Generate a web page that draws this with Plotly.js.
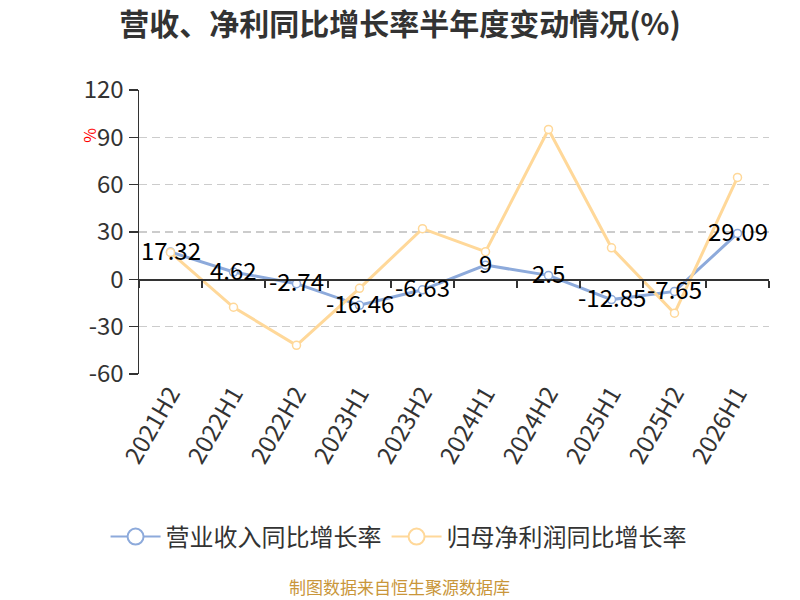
<!DOCTYPE html>
<html>
<head>
<meta charset="utf-8">
<script src="https://cdn.plot.ly/plotly-3.0.1.min.js"></script>
<style>html,body{margin:0;padding:0;background:#fff;}#chart{width:800px;height:600px;}</style>
</head>
<body>
<div id="chart"></div>
<script>
const categories = ['2021H2','2022H1','2022H2','2023H1','2023H2','2024H1','2024H2','2025H1','2025H2','2026H1'];
const revenueGrowth = [17.32, 4.62, -2.74, -16.46, -6.63, 9, 2.5, -12.85, -7.65, 29.09];
const profitGrowth = [17.0, -17.7, -41.8, -5.7, 32.1, 17.5, 95.0, 20.0, -21.5, 64.6];
const seriesNames = ['营业收入同比增长率', '归母净利润同比增长率'];
const yTicks = [-60, -30, 0, 30, 60, 90, 120];

const FONT = '"Noto Sans CJK SC", "Microsoft YaHei", sans-serif';
const BLUE = '#8DAADB';
const ORANGE = '#FFD899';

const traces = [
  {
    x: categories, y: revenueGrowth, name: seriesNames[0], type: 'scatter', mode: 'lines+markers',
    xaxis: 'x', yaxis: 'y', showlegend: false,
    line: {color: BLUE, width: 3},
    marker: {symbol: 'circle', size: 8, color: '#ffffff', line: {color: BLUE, width: 1.5}},
    hoverinfo: 'skip'
  },
  {
    x: categories, y: profitGrowth, name: seriesNames[1], type: 'scatter', mode: 'lines+markers',
    xaxis: 'x2', yaxis: 'y', showlegend: false,
    line: {color: ORANGE, width: 3},
    marker: {symbol: 'circle', size: 8, color: '#ffffff', line: {color: ORANGE, width: 1.5}},
    hoverinfo: 'skip'
  },
  {
    x: [null], y: [null], name: seriesNames[0], type: 'scatter', mode: 'lines+markers',
    xaxis: 'x', yaxis: 'y', showlegend: true,
    line: {color: BLUE, width: 2},
    marker: {symbol: 'circle', size: 17, color: '#ffffff', line: {color: BLUE, width: 2}},
    hoverinfo: 'skip'
  },
  {
    x: [null], y: [null], name: seriesNames[1], type: 'scatter', mode: 'lines+markers',
    xaxis: 'x', yaxis: 'y', showlegend: true,
    line: {color: ORANGE, width: 2},
    marker: {symbol: 'circle', size: 17, color: '#ffffff', line: {color: ORANGE, width: 2}},
    hoverinfo: 'skip'
  }
];

const annotations = categories.map((c, i) => ({
  x: c, y: revenueGrowth[i], xref: 'x', yref: 'y',
  text: String(revenueGrowth[i]), showarrow: false, yshift: 3,
  font: {family: FONT, size: 24, color: '#000000'}
}));
annotations.push({
  xref: 'paper', yref: 'paper', x: -0.102, y: 0.875, text: '%', textangle: -90,
  showarrow: false, font: {family: FONT, size: 16, color: '#ff0000'}
});
annotations.push({
  xref: 'paper', yref: 'paper', x: 0.414, y: -0.748, xanchor: 'center', yanchor: 'middle',
  text: '制图数据来自恒生聚源数据库', showarrow: false,
  font: {family: FONT, size: 17, color: '#C9963A'}
});

const layout = {
  width: 800, height: 600,
  margin: {l: 139, r: 31, t: 90, b: 226},
  paper_bgcolor: '#ffffff', plot_bgcolor: '#ffffff',
  font: {family: FONT, color: '#333333'},
  title: {
    text: '<b>营收、净利同比增长率半年度变动情况(%)</b>',
    x: 0.5, xanchor: 'center', y: 0.96, yanchor: 'middle',
    font: {family: FONT, size: 30, color: '#333333'}
  },
  showlegend: true,
  legend: {
    orientation: 'h', x: 0.412, xanchor: 'center', y: -0.574, yanchor: 'middle',
    font: {family: FONT, size: 24, color: '#333333'},
    itemwidth: 50, tracegroupgap: 0
  },
  xaxis: {
    type: 'category', categoryarray: categories, categoryorder: 'array',
    range: [-0.5, categories.length - 0.5],
    showline: false, ticks: '', showgrid: false, zeroline: false,
    tickangle: -60, tickfont: {family: FONT, size: 24, color: '#333333'},
    fixedrange: true
  },
  xaxis2: {
    type: 'category', categoryarray: categories, categoryorder: 'array',
    range: [-0.5, categories.length - 0.5],
    overlaying: 'x', anchor: 'free', position: 60 / 180,
    showline: true, linecolor: '#333333', linewidth: 1.5,
    ticks: 'outside', tickson: 'boundaries', ticklen: 7, tickcolor: '#333333', tickwidth: 1.5,
    showticklabels: false, showgrid: false, zeroline: false, fixedrange: true
  },
  yaxis: {
    range: [-60, 120], tickvals: yTicks, ticktext: yTicks.map(String),
    showline: true, linecolor: '#333333', linewidth: 1.5,
    ticks: 'outside', ticklen: 9, tickcolor: '#333333', tickwidth: 1.5,
    showgrid: true, gridcolor: '#cccccc', griddash: '8px,5px', gridwidth: 1.5,
    zeroline: false,
    tickfont: {family: FONT, size: 24, color: '#333333'},
    fixedrange: true
  },
  annotations: annotations
};

Plotly.newPlot('chart', traces, layout, {displayModeBar: false, staticPlot: true});
</script>
</body>
</html>
